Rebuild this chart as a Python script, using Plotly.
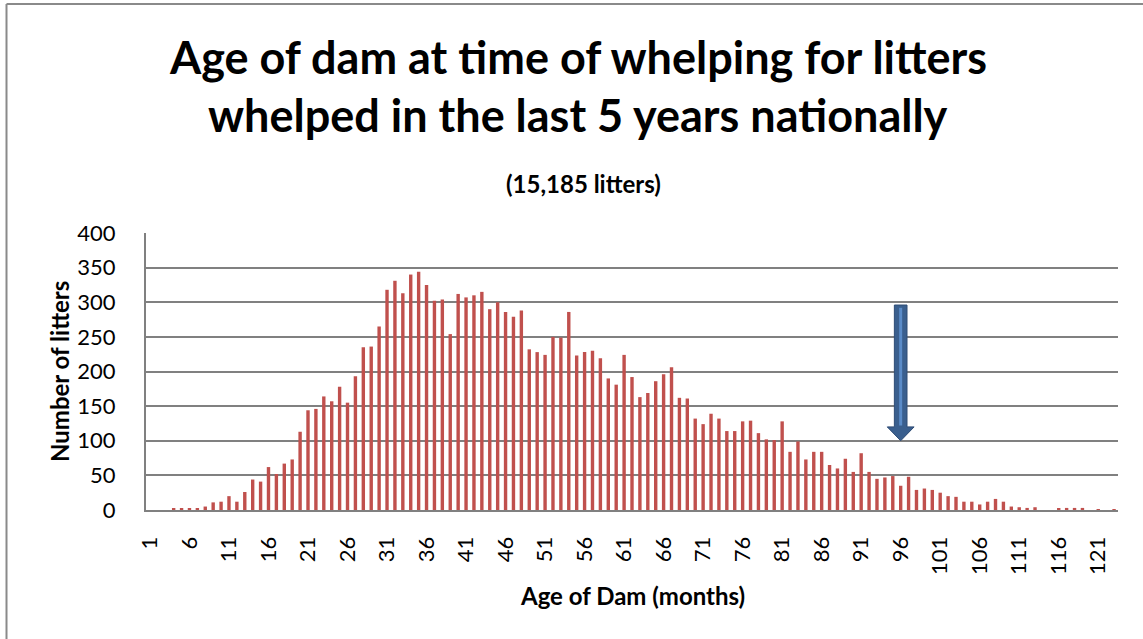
import plotly.graph_objects as go

# ---- data ----
ages = list(range(1, 124))
litters = [
    0, 0, 0, 2, 2, 2, 2, 5, 11, 12,          # 1-10
    20, 12, 26, 44, 41, 62, 52, 67, 73, 113,  # 11-20
    144, 146, 164, 157, 178, 155, 193, 235, 236, 265,  # 21-30
    318, 331, 313, 340, 344, 325, 302, 304, 254, 312,  # 31-40
    307, 310, 315, 290, 300, 286, 279, 288, 232, 228,  # 41-50
    224, 250, 249, 286, 223, 228, 230, 219, 190, 181,  # 51-60
    224, 192, 163, 169, 186, 196, 206, 162, 161, 132,  # 61-70
    124, 139, 132, 114, 114, 128, 129, 111, 102, 101,  # 71-80
    128, 84, 99, 73, 84, 84, 65, 60, 74, 55,           # 81-90
    82, 55, 45, 47, 49, 35, 48, 29, 31, 29,            # 91-100
    25, 20, 19, 12, 12, 8, 12, 16, 12, 5,              # 101-110
    4, 3, 4, 0, 0, 2, 3, 3, 3, 0,                      # 111-120
    1, 0, 1,                                           # 121-123
]
x_tick_vals = list(range(1, 124, 5))
y_tick_vals = [0, 50, 100, 150, 200, 250, 300, 350, 400]

title_line1 = "Age of dam at time of whelping for litters"
title_line2 = "whelped in the last 5 years nationally"
subtitle = "(15,185 litters)"
x_title = "Age of Dam (months)"
y_title = "Number of litters"

# arrow marker (points at 96 months = 8 years)
ARROW_X = 96
ARROW_TOP = 296
ARROW_HEAD_BASE = 120
ARROW_TIP = 100
SHAFT_HALF = 0.8
HEAD_HALF = 1.7

FONT = "Lato"
GRID = "#808080"

# plot-area pixel geometry
L, R, T, B = 146, 1118, 233, 510
PW, PH = R - L, B - T


def px(xpix):
    return (xpix - L) / PW


def py(ypix):
    return (B - ypix) / PH


fig = go.Figure()
fig.add_trace(go.Bar(
    x=ages, y=litters,
    marker=dict(color="#C0504D", line=dict(width=0)),
    hoverinfo="x+y",
))

arrow_path = (
    f"M {ARROW_X - SHAFT_HALF},{ARROW_TOP} "
    f"L {ARROW_X + SHAFT_HALF},{ARROW_TOP} "
    f"L {ARROW_X + SHAFT_HALF},{ARROW_HEAD_BASE} "
    f"L {ARROW_X + HEAD_HALF},{ARROW_HEAD_BASE} "
    f"L {ARROW_X},{ARROW_TIP} "
    f"L {ARROW_X - HEAD_HALF},{ARROW_HEAD_BASE} "
    f"L {ARROW_X - SHAFT_HALF},{ARROW_HEAD_BASE} Z"
)

shapes = [
    dict(type="path", xref="x", yref="y", path=arrow_path,
         fillcolor="#3A5F8E", line=dict(color="#2E4C75", width=1), layer="above"),
    dict(type="line", xref="x", yref="y", x0=ARROW_X, x1=ARROW_X,
         y0=ARROW_TOP - 4, y1=ARROW_HEAD_BASE + 2,
         line=dict(color="#5A8BC8", width=3), layer="above"),
    # chart-area border (left and top edges visible in the picture)
    dict(type="line", xref="paper", yref="paper", x0=px(6.5), x1=px(6.5),
         y0=py(4), y1=py(660), line=dict(color="#8A8A8A", width=2)),
    dict(type="line", xref="paper", yref="paper", x0=px(6.5), x1=px(1160),
         y0=py(4), y1=py(4), line=dict(color="#8A8A8A", width=2)),
]

annotations = [
    dict(text=f"<b>{title_line1}</b>", xref="paper", yref="paper",
         x=px(578), y=py(57), xanchor="center", yanchor="middle",
         showarrow=False, font=dict(family=FONT, size=45, color="black")),
    dict(text=f"<b>{title_line2}</b>", xref="paper", yref="paper",
         x=px(578), y=py(115), xanchor="center", yanchor="middle",
         showarrow=False, font=dict(family=FONT, size=45, color="black")),
    dict(text=f"<b>{subtitle}</b>", xref="paper", yref="paper",
         x=px(583), y=py(183), xanchor="center", yanchor="middle",
         showarrow=False, font=dict(family=FONT, size=24, color="black")),
    dict(text=f"<b>{x_title}</b>", xref="paper", yref="paper",
         x=px(632), y=py(595), xanchor="center", yanchor="middle",
         showarrow=False, font=dict(family=FONT, size=24, color="black")),
    dict(text=f"<b>{y_title}</b>", xref="paper", yref="paper",
         x=px(59), y=py(372), xanchor="center", yanchor="middle",
         textangle=-90, showarrow=False, font=dict(family=FONT, size=24, color="black")),
]

fig.update_layout(
    width=1143, height=639, autosize=False,
    margin=dict(l=L, r=1143 - R, t=T, b=639 - B, pad=0),
    paper_bgcolor="white", plot_bgcolor="white",
    bargap=0.57, showlegend=False,
    shapes=shapes, annotations=annotations,
    font=dict(family=FONT, color="black"),
)
fig.update_xaxes(
    range=[0.5, 123.5], tickmode="array", tickvals=x_tick_vals,
    ticktext=[str(v) for v in x_tick_vals], tickangle=-90,
    tickfont=dict(family=FONT, size=22, color="black"),
    showgrid=False, zeroline=False, showline=True, linecolor=GRID, linewidth=2,
    ticks="outside", ticklen=16, tickcolor="rgba(0,0,0,0)",
)
fig.update_yaxes(
    range=[0, 400], tickmode="array", tickvals=y_tick_vals,
    tickfont=dict(family=FONT, size=22, color="black"),
    showgrid=True, gridcolor=GRID, gridwidth=1.6, zeroline=False,
    showline=True, linecolor=GRID, linewidth=2,
    ticks="outside", ticklen=24, tickcolor="rgba(0,0,0,0)",
)

fig.write_html(
    "out.html",
    config={"displayModeBar": False},
    post_script="document.body.style.margin='0';document.body.style.overflow='hidden';",
)
